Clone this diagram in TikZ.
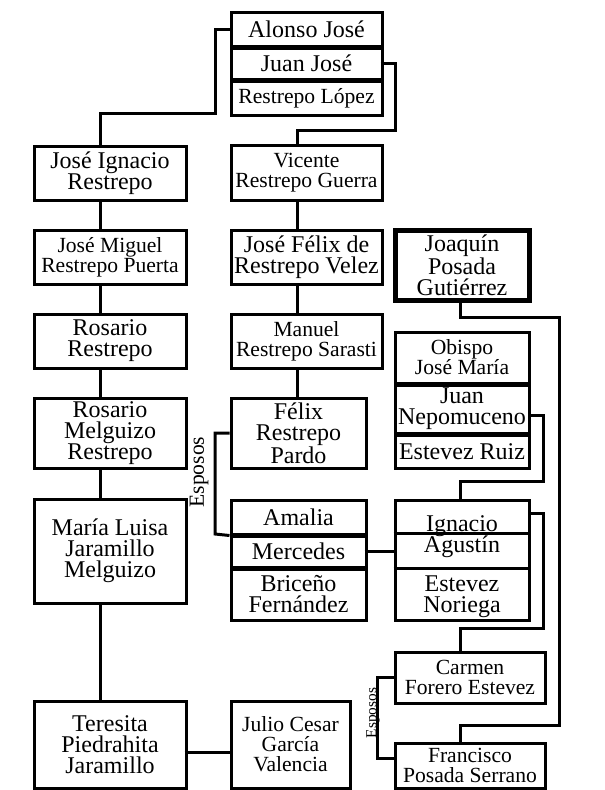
\documentclass[tikz,border=0pt]{standalone}
\usepackage{fontspec}
\setmainfont{Liberation Serif}
\newcommand{\bigname}{\fontsize{18pt}{15.75pt}\selectfont}
\newcommand{\midname}{\fontsize{16.2pt}{15pt}\selectfont}
\newcommand{\smallname}{\fontsize{11.5pt}{12pt}\selectfont}
\begin{document}
\begin{tikzpicture}[x=0.75pt,y=-0.75pt,
  box/.style={draw, line width=2.25pt, inner sep=0pt, align=center, font=\bigname},
  midbox/.style={box, font=\midname},
  sz/.style 2 args={minimum width=#1*0.75pt, minimum height=#2*0.75pt},
  link/.style={line width=2.25pt},
  txt/.style={inner sep=0pt, align=center, font=\bigname}]
\useasboundingbox (0,0) rectangle (605,790);

% Restrepo López family group
\node[box, sz={151}{34}] (al) at (306.5,29) {Alonso José};
\node[box, sz={151}{31}] (jj) at (306.5,63.5) {Juan José};
\node[midbox, sz={151}{34}] (rl) at (306.5,98) {Restrepo López};

% left line of descent
\node[box, sz={152}{54}] (ji) at (110,173) {José Ignacio\\Restrepo};
\node[midbox, sz={152}{54}] (jm) at (110,257) {José Miguel\\Restrepo Puerta};
\node[box, sz={152}{54}] (ro) at (110,341) {Rosario\\Restrepo};
\node[box, sz={152}{70}] (rm) at (110,433) {Rosario\\Melguizo\\Restrepo};
\node[box, sz={152}{104}] (ml) at (110,551) {María Luisa\\Jaramillo\\Melguizo};
\node[box, sz={152}{87}] (te) at (110,744.5) {Teresita\\Piedrahita\\Jaramillo};

% middle line of descent
\node[midbox, sz={151}{55}] (vi) at (306.5,172.5) {Vicente\\Restrepo Guerra};
\node[box, sz={151}{54}] (jf) at (306.5,257) {José Félix de\\Restrepo Velez};
\node[midbox, sz={151}{54}] (ma) at (306.5,341) {Manuel\\Restrepo Sarasti};
\node[box, sz={135}{70}] (fe) at (298.5,433) {Félix\\Restrepo\\Pardo};
\node[box, sz={135}{34}] (am) at (298.5,517) {Amalia};
\node[box, sz={135}{31}] (me) at (298.5,551.5) {Mercedes};
\node[box, sz={135}{51}] (br) at (298.5,594.5) {Briceño\\Fernández};
\node[midbox, sz={119}{87}] (ju) at (290.5,744.5) {Julio Cesar\\García\\Valencia};

% right line of descent
\node[box, line width=3.75pt, sz={134}{70}] (jo) at (462,265) {Joaquín\\Posada\\Gutiérrez};
\node[midbox, sz={134}{51}] (ob) at (462,357.5) {Obispo\\José María};
\node[box, sz={134}{48}] (jn) at (462,409) {Juan\\Nepomuceno};
\node[box, sz={134}{33}] (er) at (462,451.5) {Estevez Ruiz};

\node[box, sz={134}{120}] (ig) at (462,560) {};
\draw[link] (ig.west |- 0,533) -- (ig.east |- 0,533);
\draw[link] (ig.west |- 0,568) -- (ig.east |- 0,568);
\node[txt] (ig1) at (462,526.5) {Ignacio};
\node[txt] (ig2) at (462,547) {Agustín};
\node[txt] (ig3) at (462,597) {Estevez\\Noriega};

\node[midbox, sz={150}{51}] (ca) at (470,677.5) {Carmen\\Forero Estevez};
\node[midbox, sz={150}{45}] (fr) at (470,765.5) {Francisco\\Posada Serrano};

% spouse labels
\node[inner sep=0pt, font=\midname, rotate=90] (esp1) at (199,472) {Esposos};
\node[inner sep=0pt, font=\smallname, rotate=90] (esp2) at (373,713) {Esposos};

% connectors
\draw[link] (al.west) -| (215,113) -| ([shift={(-10,0)}]ji.north);
\draw[link] ([shift={(-3,0)}]jj.east) -| (395,130) -| ([shift={(-9.5,0)}]vi.north);

\draw[link] ([shift={(-10,0)}]ji.south) -- ([shift={(-10,0)}]jm.north);
\draw[link] ([shift={(-10,0)}]jm.south) -- ([shift={(-10,0)}]ro.north);
\draw[link] ([shift={(-10,0)}]ro.south) -- ([shift={(-10,0)}]rm.north);
\draw[link] ([shift={(-10,0)}]rm.south) -- ([shift={(-10,0)}]ml.north);
\draw[link] ([shift={(-10,0)}]ml.south) -- ([shift={(-10,0)}]te.north);

\draw[link] ([shift={(-9.5,0)}]vi.south) -- ([shift={(-9.5,0)}]jf.north);
\draw[link] ([shift={(-9.5,0)}]jf.south) -- ([shift={(-9.5,0)}]ma.north);
\draw[link] ([shift={(-9.5,0)}]ma.south) -- ([shift={(-9.5,0)}]ma.south |- fe.north);

\draw[link] (fe.west) -| (215,534) -- (am.south west);
\draw[link] ([shift={(-3,0)}]me.east) -- (me.east -| ig.west);
\draw[link] ([shift={(-3,7.5)}]te.east) -- ([shift={(0,7.5)}]te.east -| ju.west);

\draw[link] ([shift={(-2,0)}]jo.south) |- (559,317) |- ([shift={(-10,-16)}]fr.north) -- ([shift={(-10,0)}]fr.north);
\draw[link] ([shift={(-1,6)}]jn.east) -| (543,481) -| ([shift={(-2,0)}]ig.north);
\draw[link] ([shift={(-2,-47)}]ig.east) -| (543,628) -| ([shift={(-10,0)}]ca.north);
\draw[link] (ca.west) -| ([shift={(-16,-7.5)}]fr.west) -- ([shift={(0,-7.5)}]fr.west);
\end{tikzpicture}
\end{document}
